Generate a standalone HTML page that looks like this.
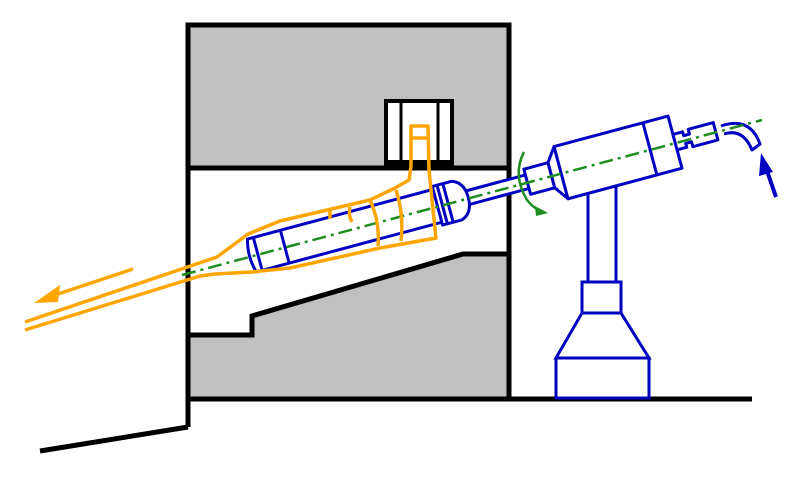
<!DOCTYPE html>
<html><head><meta charset="utf-8"><style>html,body{margin:0;padding:0;background:#fff}svg{display:block}</style></head>
<body>
<svg width="800" height="477" viewBox="0 0 800 477" xmlns="http://www.w3.org/2000/svg">
<!-- gray areas -->
<rect x="188" y="25" width="321" height="143" fill="#c0c0c0"/>
<rect x="386" y="101" width="66" height="64" fill="#fff" stroke="#000" stroke-width="4"/>
<line x1="401" y1="101" x2="401" y2="165" stroke="#000" stroke-width="3"/>
<line x1="438" y1="101" x2="438" y2="165" stroke="#000" stroke-width="3"/>
<rect x="386" y="160" width="66" height="9" fill="#000"/>
<polygon points="188,335 252,335 252,316 463,254 509,254 509,399 188,399" fill="#c0c0c0"/>
<g fill="none" stroke="#000" stroke-width="5" stroke-linejoin="miter">
<polyline points="188,427 188,25 509,25 509,399"/>
<line x1="188" y1="168" x2="509" y2="168"/>
<polyline points="188,335 252,335 252,316 463,254 509,254"/>
<line x1="188" y1="399" x2="752" y2="399"/>
<polyline points="40,451 188,427"/>
</g>
<!-- pedestal -->
<g fill="#fff" stroke="#0000c0" stroke-width="3">
<line x1="588" y1="190" x2="588" y2="282"/>
<line x1="616" y1="186" x2="616" y2="282"/>
<rect x="582" y="282" width="39" height="31"/>
<polygon points="582,313 621,313 649,358 556,358"/>
<rect x="556" y="358" width="93" height="40"/>
</g>
<!-- blue tube in local coords -->
<g transform="translate(250,256) rotate(-15)" fill="#fff" stroke="#0000c0" stroke-width="3" stroke-linejoin="round">
<rect x="225" y="-7" width="62" height="14"/>
<path d="M2,-17 L200,-17 L200,17 L2,17 Q-3,0 2,-17Z"/>
<line x1="8" y1="-17" x2="8" y2="17"/>
<line x1="36" y1="-17" x2="36" y2="17"/>
<path d="M194,-20 L214,-20 Q226,-16 226,0 Q226,16 214,20 L194,20Z"/>
<line x1="199" y1="-20" x2="199" y2="20"/>
<line x1="205" y1="-20" x2="205" y2="20"/>
<rect x="287" y="-13" width="25" height="26"/>
<polygon points="312,-13 322,-27 322,27 312,13"/>
<rect x="322" y="-27" width="118" height="54"/>
<line x1="414" y1="-27" x2="414" y2="27"/>
<polygon points="440,-8 450,-8 450,-4 456,-4 456,-9 482,-9 482,9 456,9 456,4 450,4 450,8 440,8"/>
</g>
<!-- hose -->
<path d="M721,126 Q750,116 760,144 L752,150 Q743,128 724,134" fill="#fff" stroke="#0000c0" stroke-width="3" stroke-linejoin="round"/>
<!-- blue arrow -->
<line x1="776" y1="197" x2="766" y2="168" stroke="#0000c0" stroke-width="4"/>
<polygon points="761,153 759,176 773,172" fill="#0000c0"/>
<!-- green axis -->
<line x1="182" y1="275" x2="762" y2="120" stroke="#1e8c1e" stroke-width="2.5" stroke-dasharray="14,5,3,5"/>
<path d="M524,152 Q512,175 527,200 Q535,210 544,212" fill="none" stroke="#1e8c1e" stroke-width="2.5"/>
<polygon points="548,213 535,206 536,216" fill="#1e8c1e"/>
<!-- orange -->
<g fill="none" stroke="#ffa500" stroke-width="3.5" stroke-linejoin="round">
<polyline points="25,322 217,257 248,234 280,221 370,200 395,188 409,180 411,166 411,126 428,126 429,170 432,200 436,238 380,248 290,268 252,272 215,274 200,276 25,330"/>
<line x1="411" y1="138" x2="428" y2="138"/>
<line x1="330" y1="210" x2="330" y2="219"/>
<path d="M350,207 Q348,215 352,222"/>
<path d="M370,200 Q380,222 378,246"/>
<path d="M396,190 Q404,215 401,241"/>
<line x1="133" y1="269" x2="55" y2="295"/>
</g>
<polygon points="34,303 60,285 58,302" fill="#ffa500"/>
</svg>
</body></html>
